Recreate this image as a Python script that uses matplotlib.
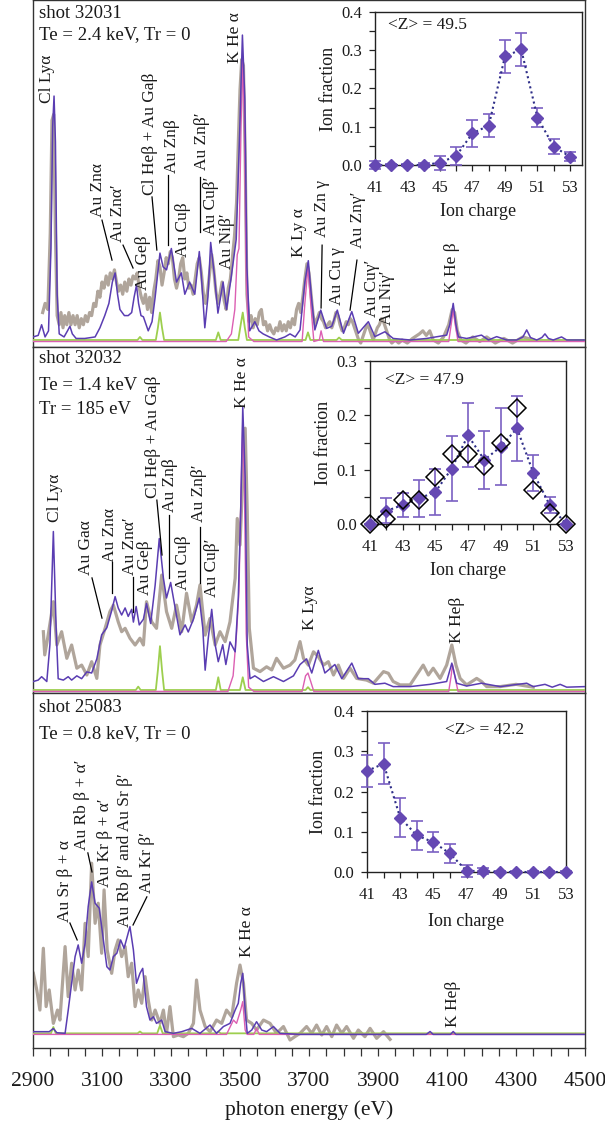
import matplotlib
matplotlib.use("Agg")
import matplotlib.pyplot as plt
from matplotlib.ticker import MultipleLocator, FormatStrFormatter

plt.rcParams['font.family'] = ['Liberation Serif', 'DejaVu Serif']

W, H = 605, 1130

# ------------------------------------------------------------------ data
# spectra: (photon energy eV, relative intensity) vertices
p1_gray = [(2928,0.09),(2935,0.12),(2943,0.10),(2950,0.35),(2955,0.72),(2960,0.74),(2965,0.35),(2970,0.08),
    (2976,0.05),(2981,0.09),(2987,0.04),(2992,0.08),(2998,0.05),(3004,0.09),(3010,0.05),(3016,0.08),(3022,0.05),
    (3028,0.08),(3034,0.04),(3040,0.07),(3046,0.05),(3052,0.08),(3058,0.06),(3064,0.09),(3070,0.08),(3076,0.12),
    (3082,0.11),(3088,0.16),(3094,0.14),(3100,0.19),(3106,0.17),(3112,0.21),(3118,0.18),(3124,0.22),(3130,0.20),
    (3136,0.23),(3142,0.19),(3148,0.16),(3154,0.18),(3160,0.15),(3166,0.19),(3172,0.16),(3178,0.20),(3184,0.18),
    (3190,0.21),(3196,0.20),(3202,0.22),(3208,0.17),(3214,0.14),(3220,0.12),(3226,0.15),(3232,0.10),(3238,0.14),
    (3244,0.09),(3250,0.16),(3256,0.20),(3262,0.26),(3268,0.24),(3274,0.18),(3280,0.22),(3286,0.27),(3292,0.25),
    (3298,0.29),(3304,0.27),(3310,0.20),(3316,0.17),(3322,0.20),(3328,0.25),(3334,0.27),(3340,0.20),(3346,0.22),
    (3352,0.17),(3358,0.18),(3364,0.15),(3370,0.20),(3376,0.25),(3382,0.27),(3388,0.22),(3394,0.15),(3400,0.12),
    (3406,0.16),(3412,0.22),(3418,0.28),(3424,0.23),(3430,0.16),(3436,0.12),(3442,0.15),(3448,0.19),(3454,0.13),
    (3460,0.10),(3466,0.17),(3472,0.20),(3478,0.27),(3484,0.34),(3490,0.45),(3496,0.68),(3500,0.82),(3505,0.92),
    (3510,0.90),(3515,0.60),(3520,0.15),(3526,0.06),(3532,0.08),(3538,0.04),(3544,0.07),(3550,0.05),(3556,0.09),
    (3562,0.10),(3568,0.05),(3574,0.06),(3580,0.03),(3586,0.05),(3592,0.03),(3598,0.02),(3604,0.04),(3610,0.03),
    (3616,0.06),(3622,0.03),(3628,0.05),(3634,0.03),(3640,0.06),(3646,0.04),(3652,0.07),(3658,0.05),(3664,0.10),
    (3670,0.12),(3676,0.09),(3682,0.14),(3688,0.20),(3694,0.25),(3700,0.22),(3706,0.15),(3712,0.08),(3718,0.05),
    (3724,0.07),(3730,0.09),(3736,0.07),(3742,0.06),(3748,0.04),(3754,0.05),(3760,0.06),(3766,0.04),(3772,0.06),
    (3778,0.09),(3784,0.08),(3790,0.05),(3796,0.03),(3802,0.04),(3808,0.06),(3814,0.05),(3820,0.07),(3826,0.06),
    (3832,0.04),(3838,0.02),(3844,0.00),(3850,-0.01),(3856,0.01),(3862,0.03),(3868,0.05),(3874,0.04),(3880,0.02),
    (3886,0.00),(3892,0.02),(3898,0.04),(3904,0.05),(3910,0.07),(3916,0.06),(3922,0.04),(3928,0.02),(3934,0.00),
    (3940,-0.01),(3950,0.00),(3960,-0.01),(3970,0.00),(3985,-0.01),(4000,0.005),(4020,0.02),(4030,0.03),(4040,0.015),
    (4050,0.03),(4060,0.00),(4075,-0.01),(4090,0.01),(4105,0.05),(4115,0.10),(4122,0.09),(4130,0.03),(4140,0.00),
    (4155,-0.01),(4175,0.01),(4195,-0.005),(4215,0.01),(4240,-0.01),(4265,0.005),(4290,-0.01),(4320,0.01),(4350,0.00)]
p1_model = [(2900,0.01),(2915,0.015),(2925,0.05),(2935,0.01),(2945,0.03),(2952,0.30),(2957,0.70),(2961,0.80),
    (2965,0.65),(2970,0.15),(2976,0.02),(2990,0.01),(3000,0.03),(3007,0.045),(3014,0.02),(3025,0.005),(3050,0.005),
    (3080,0.01),(3094,0.04),(3108,0.08),(3120,0.12),(3130,0.19),(3138,0.22),(3145,0.15),(3152,0.10),(3165,0.08),
    (3176,0.08),(3186,0.09),(3193,0.14),(3200,0.18),(3206,0.12),(3213,0.08),(3220,0.076),(3234,0.03),(3245,0.06),
    (3254,0.14),(3268,0.285),(3277,0.24),(3287,0.23),(3301,0.30),(3316,0.19),(3330,0.22),(3340,0.15),(3354,0.19),
    (3369,0.15),(3382,0.29),(3388,0.21),(3398,0.04),(3407,0.14),(3415,0.32),(3426,0.21),(3436,0.088),(3451,0.19),
    (3461,0.10),(3475,0.21),(3489,0.33),(3499,0.68),(3507,1.00),(3514,0.79),(3520,0.24),(3528,0.03),(3543,0.06),
    (3555,0.03),(3567,0.02),(3585,0.01),(3606,0.00),(3630,0.01),(3645,0.02),(3660,0.01),(3674,0.033),(3688,0.19),
    (3698,0.26),(3708,0.13),(3717,0.033),(3734,0.098),(3751,0.038),(3766,0.045),(3782,0.098),(3800,0.022),
    (3824,0.093),(3843,0.022),(3872,0.06),(3891,0.011),(3920,0.027),(3944,0.005),(3993,0.00),(4041,0.005),
    (4099,0.016),(4108,0.05),(4118,0.12),(4126,0.05),(4133,0.01),(4157,0.005),(4200,0.016),(4220,0.00),(4244,0.011),
    (4273,0.00),(4302,0.00),(4320,0.01),(4331,0.033),(4342,0.008),(4360,0.00),(4375,0.008),(4384,0.02),(4394,0.005),
    (4408,0.00),(4432,0.01),(4447,0.00),(4500,0.00)]
p1_pink = [(2900,-0.005),(3460,-0.005),(3475,0.02),(3485,0.10),(3492,0.28),(3497,0.30),(3503,0.70),(3508,0.92),
    (3513,0.70),(3518,0.20),(3525,0.01),(3540,-0.005),(3680,-0.005),(3688,0.12),(3697,0.24),(3705,0.12),(3714,-0.005),
    (3730,0.00),(3735,0.03),(3742,-0.005),(4105,-0.005),(4112,0.05),(4118,0.10),(4124,0.05),(4132,-0.005),(4500,-0.005)]
p1_green = [(2900,0),(3203,0),(3210,0.01),(3217,0),(3256,0),(3262,0.04),(3268,0.09),(3274,0.04),(3280,0),(3430,0),
    (3437,0.025),(3444,0),(3495,0),(3502,0.05),(3508,0.09),(3514,0.04),(3520,0),(3690,0),(3697,0.025),(3704,0),
    (3780,0),(3787,0.008),(3795,0),(4500,0)]

p2_gray = [(2930,0.206),(2934,0.124),(2944,0.194),(2959,0.312),(2969,0.159),(2983,0.206),(2998,0.112),(3012,0.159),
    (3027,0.077),(3041,0.088),(3056,0.053),(3070,0.100),(3085,0.041),(3094,0.159),(3109,0.218),(3123,0.277),
    (3133,0.300),(3147,0.241),(3157,0.206),(3167,0.218),(3181,0.183),(3196,0.159),(3210,0.183),(3220,0.159),
    (3229,0.312),(3244,0.241),(3258,0.218),(3273,0.406),(3287,0.277),(3302,0.218),(3316,0.300),(3331,0.206),
    (3345,0.342),(3360,0.241),(3374,0.300),(3384,0.371),(3399,0.194),(3413,0.253),(3428,0.159),(3442,0.206),
    (3457,0.171),(3471,0.241),(3486,0.395),(3492,0.606),(3500,0.512),(3508,0.748),(3515,0.925),(3521,0.630),
    (3527,0.218),(3539,0.077),(3558,0.065),(3577,0.082),(3592,0.071),(3606,0.112),(3626,0.077),(3645,0.088),
    (3659,0.106),(3674,0.171),(3684,0.112),(3698,0.088),(3713,0.135),(3727,0.118),(3742,0.088),(3756,0.100),
    (3771,0.053),(3785,0.088),(3800,0.041),(3819,0.077),(3838,0.041),(3867,0.035),(3887,0.024),(3916,0.065),
    (3930,0.059),(3944,0.030),(3964,0.018),(3993,0.018),(4012,0.053),(4031,0.088),(4046,0.053),(4060,0.077),
    (4080,0.041),(4099,0.088),(4114,0.159),(4126,0.088),(4138,0.041),(4157,0.018),(4186,0.041),(4200,0.030),
    (4215,0.012),(4254,0.012),(4300,0.020),(4350,0.010)]
p2_model = [(2901,0.03),(2915,0.035),(2925,0.047),(2940,0.03),(2949,0.16),(2959,0.56),(2967,0.22),(2973,0.04),
    (2988,0.035),(3002,0.047),(3012,0.035),(3027,0.05),(3041,0.04),(3056,0.064),(3070,0.06),(3085,0.11),(3099,0.195),
    (3114,0.22),(3128,0.28),(3138,0.33),(3147,0.29),(3157,0.265),(3167,0.29),(3176,0.26),(3186,0.285),(3191,0.24),
    (3199,0.295),(3208,0.23),(3220,0.25),(3229,0.306),(3241,0.235),(3254,0.37),(3266,0.535),(3278,0.395),
    (3287,0.325),(3299,0.38),(3312,0.29),(3326,0.195),(3341,0.23),(3350,0.205),(3365,0.25),(3382,0.325),
    (3392,0.22),(3399,0.07),(3408,0.183),(3418,0.285),(3428,0.16),(3437,0.10),(3450,0.16),(3459,0.09),(3471,0.17),
    (3486,0.135),(3495,0.325),(3502,0.63),(3508,1.00),(3515,0.75),(3521,0.16),(3529,0.04),(3543,0.05),(3568,0.03),
    (3597,0.047),(3626,0.03),(3655,0.05),(3674,0.09),(3693,0.11),(3708,0.06),(3727,0.14),(3746,0.06),(3775,0.09),
    (3795,0.04),(3824,0.095),(3843,0.04),(3872,0.04),(3891,0.02),(3920,0.024),(3944,0.012),(3993,0.012),
    (4051,0.02),(4099,0.03),(4114,0.095),(4128,0.024),(4157,0.014),(4200,0.024),(4254,0.012),(4331,0.024),
    (4350,0.012),(4384,0.02),(4405,0.01),(4428,0.02),(4447,0.01),(4500,0.012)]
p2_pink = [(2900,-0.005),(3465,-0.005),(3480,0.05),(3490,0.20),(3497,0.35),(3503,0.70),(3508,0.95),(3513,0.70),
    (3518,0.20),(3525,0.01),(3540,-0.005),(3680,-0.005),(3690,0.05),(3697,0.06),(3705,0.03),(3714,-0.005),
    (4105,-0.005),(4112,0.05),(4116,0.09),(4124,0.04),(4132,-0.005),(4500,-0.005)]
p2_green = [(2900,0),(3198,0),(3205,0.012),(3212,0),(3256,0),(3262,0.07),(3268,0.155),(3274,0.07),(3280,0),
    (3430,0),(3437,0.045),(3444,0),(3500,0),(3508,0.045),(3516,0),(3690,0),(3697,0.01),(3704,0),(4500,0)]

p3_gray = [(2901,0.395),(2911,0.285),(2920,0.152),(2930,0.561),(2938,0.175),(2947,0.285),(2959,0.064),
    (2971,0.152),(2978,0.086),(2993,0.572),(3002,0.241),(3012,0.462),(3022,0.285),(3031,0.417),(3041,0.285),
    (3051,0.726),(3060,0.506),(3070,1.124),(3080,0.726),(3089,0.859),(3099,0.528),(3106,0.947),(3115,0.550),
    (3128,0.395),(3138,0.550),(3147,0.616),(3157,0.506),(3167,0.572),(3176,0.373),(3186,0.462),(3196,0.175),
    (3205,0.285),(3215,0.197),(3225,0.373),(3234,0.219),(3244,0.086),(3254,0.152),(3268,0.064),(3278,0.152),
    (3287,-0.002),(3297,0.175),(3307,-0.024),(3321,-0.013),(3336,-0.024),(3350,-0.002),(3365,0.064),(3374,0.351),
    (3384,0.152),(3399,0.043),(3413,0.009),(3432,0.086),(3447,0.064),(3461,0.152),(3476,0.108),(3490,0.329),
    (3500,0.450),(3510,0.329),(3519,0.086),(3534,0.064),(3548,0.020),(3568,0.086),(3587,0.064),(3606,-0.002),
    (3626,0.043),(3645,-0.046),(3659,-0.024),(3674,-0.002),(3693,0.043),(3708,-0.002),(3722,0.053),(3737,-0.013),
    (3751,0.043),(3766,-0.024),(3780,0.053),(3795,-0.002),(3809,0.043),(3829,-0.035),(3843,0.020),(3862,-0.024),
    (3877,0.031),(3896,-0.035),(3916,0.009),(3935,-0.042)]
p3_model = [(2901,0.009),(2947,0.009),(2959,0.03),(2969,0.002),(2993,-0.002),(3002,0.15),(3012,0.33),(3022,0.506),
    (3031,0.583),(3041,0.462),(3051,0.594),(3060,0.837),(3070,1.00),(3080,0.859),(3092,0.826),(3104,0.616),
    (3114,0.439),(3123,0.417),(3133,0.506),(3143,0.528),(3154,0.616),(3164,0.561),(3181,0.704),(3191,0.550),
    (3200,0.329),(3210,0.395),(3218,0.428),(3229,0.175),(3239,0.086),(3249,0.108),(3258,0.064),(3273,0.086),
    (3283,0.009),(3307,-0.002),(3331,0.009),(3360,0.031),(3384,-0.002),(3413,0.053),(3432,-0.002),(3452,0.043),
    (3471,0.064),(3486,0.152),(3495,0.197),(3502,0.329),(3508,0.395),(3515,0.152),(3521,-0.002),(3534,0.02),
    (3548,0.075),(3563,0.02),(3577,0.009),(3597,0.043),(3616,-0.002),(3674,-0.009),(4040,-0.009),(4051,0.01),
    (4060,-0.009),(4110,-0.009),(4118,0.01),(4126,-0.009),(4500,-0.009)]
p3_pink = [(2900,-0.009),(3461,-0.009),(3481,0.086),(3490,0.064),(3502,0.152),(3508,0.208),(3515,0.02),
    (3521,-0.009),(3540,-0.009),(3548,0.03),(3556,-0.009),(4500,-0.009)]
p3_green = [(2900,-0.002),(2952,-0.002),(2959,0.04),(2966,-0.002),(3203,-0.002),(3210,0.01),(3217,-0.002),
    (3260,-0.002),(3268,0.05),(3276,-0.002),(3430,-0.002),(3437,0.01),(3444,-0.002),(4500,-0.002)]

# line identifications: (text, energy, intensity at text start, leader line or None)
p1_labels = [("Cl Lyα", 2941, 0.777, None),
    ("Au Znα", 3088, 0.403, ((3100, 0.393), (3129, 0.262))),
    ("Au Znα′", 3146, 0.321, ((3161, 0.311), (3190, 0.236))),
    ("Au Geβ", 3219, 0.164, None),
    ("Cl Heβ + Au Gaβ", 3239, 0.475, ((3245, 0.469), (3259, 0.295))),
    ("Au Znβ", 3303, 0.548, ((3291, 0.541), (3291, 0.311))),
    ("Au Cuβ", 3335, 0.272, None),
    ("Au Znβ′", 3390, 0.557, ((3384, 0.534), (3384, 0.354))),
    ("Au Cuβ′", 3415, 0.345, None),
    ("Au Niβ′", 3461, 0.232, None),
    ("K He α", 3485, 0.908, None),
    ("K Ly α", 3671, 0.272, None),
    ("Au Zn γ", 3738, 0.338, ((3738, 0.311), (3735, 0.105))),
    ("Au Cu γ", 3781, 0.115, None),
    ("Au Znγ′", 3842, 0.302, ((3839, 0.262), (3819, 0.098))),
    ("Au Cuγ′", 3883, 0.075, None),
    ("Au Niγ′", 3926, 0.049, None),
    ("K He β", 4114, 0.154, None)]
p2_labels = [("Cl Lyα", 2964, 0.594, None),
    ("Au Gaα", 3054, 0.406, ((3071, 0.396), (3100, 0.254))),
    ("Au Znα", 3123, 0.452, ((3129, 0.452), (3129, 0.343))),
    ("Au Znα′", 3181, 0.406, ((3190, 0.399), (3190, 0.276))),
    ("Au Geβ", 3225, 0.336, None),
    ("Cl Heβ + Au Gaβ", 3248, 0.678, ((3259, 0.671), (3274, 0.477))),
    ("Au Znβ", 3297, 0.629, ((3294, 0.618), (3294, 0.396))),
    ("Au Cuβ", 3335, 0.353, None),
    ("Au Znβ′", 3381, 0.594, ((3384, 0.576), (3384, 0.378))),
    ("Au Cuβ′", 3419, 0.329, None),
    ("K He α", 3506, 0.996, None),
    ("K Lyα", 3703, 0.212, None),
    ("K Heβ", 4129, 0.166, None)]
p3_labels = [("Au Sr β + α", 2993, 0.735, ((3007, 0.728), (3028, 0.616))),
    ("Au Rb β + α′", 3042, 1.212, ((3059, 1.192), (3071, 1.066))),
    ("Au Kr β + α′", 3109, 0.967, None),
    ("Au Rb β′ and Au Sr β′", 3167, 0.702, None),
    ("Au Kr β′", 3230, 0.927, ((3230, 0.901), (3190, 0.715))),
    ("K He α", 3520, 0.503, None),
    ("K Heβ", 4117, 0.040, None)]

p1_header = ["shot 32031", "Te = 2.4 keV, Tr = 0"]
p2_header = ["shot 32032", "Te = 1.4 keV", "Tr = 185 eV"]
p3_header = ["shot 25083", "Te = 0.8 keV, Tr = 0"]

# charge state distributions (insets)
ion_charge = [41, 42, 43, 44, 45, 46, 47, 48, 49, 50, 51, 52, 53]
csd1 = [0.0, 0.0, 0.0, 0.0, 0.006, 0.024, 0.083, 0.103, 0.284, 0.302, 0.124, 0.048, 0.022]
csd1_err = [0.010, 0.002, 0.002, 0.004, 0.018, 0.024, 0.035, 0.030, 0.043, 0.044, 0.025, 0.020, 0.011]
csd2 = [0.0, 0.024, 0.035, 0.047, 0.059, 0.102, 0.163, 0.118, 0.142, 0.176, 0.094, 0.035, 0.0]
csd2_err = [0.0, 0.023, 0.022, 0.034, 0.042, 0.060, 0.059, 0.054, 0.071, 0.060, 0.033, 0.014, 0.0]
csd2_alt = [0.0, 0.010, 0.044, 0.044, 0.086, 0.129, 0.129, 0.107, 0.150, 0.214, 0.062, 0.021, 0.0]
csd3 = [0.251, 0.269, 0.135, 0.091, 0.074, 0.046, 0.003, 0.002, 0.0, 0.0, 0.0, 0.0, 0.0]
csd3_err = [0.039, 0.051, 0.049, 0.036, 0.025, 0.024, 0.015, 0.007, 0.003, 0.003, 0.003, 0.003, 0.003]
mean_z = ["<Z> = 49.5", "<Z> = 47.9", "<Z> = 42.2"]

# ------------------------------------------------------------------ style
GRAY = '#B0A59B'
PURPLE = '#5A3DB2'
PINK = '#DC5FB2'
GREEN = '#9DCF4E'
MARK = '#6548B3'
ERRC = '#7A60C2'
DOTC = '#2E2E88'
TXT = '#1a1a1a'

fig = plt.figure(figsize=(W / 100, H / 100), dpi=100)


def px_axes(left, right, top, bottom):
    return fig.add_axes([left / W, 1 - bottom / H, (right - left) / W, (bottom - top) / H])


def xy(pts):
    return [p[0] for p in pts], [p[1] for p in pts]


panels = [
    dict(box=(33, 585, 0, 347), ylim=(-0.023, 1.115), gray=p1_gray, model=p1_model, pink=p1_pink,
         green=p1_green, labels=p1_labels, header=p1_header, hy=[0.9625, 0.899]),
    dict(box=(33, 585, 347, 693), ylim=(-0.0106, 1.212), gray=p2_gray, model=p2_model, pink=p2_pink,
         green=p2_green, labels=p2_labels, header=p2_header, hy=[0.968, 0.890, 0.818]),
    dict(box=(33, 585, 693, 1048), ylim=(-0.099, 2.25), gray=p3_gray, model=p3_model, pink=p3_pink,
         green=p3_green, labels=p3_labels, header=p3_header, hy=[0.958, 0.887]),
]

main_axes = []
for i, p in enumerate(panels):
    ax = px_axes(*p['box'])
    ax.set_xlim(2900, 4500)
    ax.set_ylim(*p['ylim'])
    ax.plot(*xy(p['gray']), color=GRAY, lw=2.3, solid_joinstyle='round', zorder=2)
    ax.plot(*xy(p['green']), color=GREEN, lw=1.3, zorder=3)
    ax.plot(*xy(p['pink']), color=PINK, lw=1.0, zorder=4)
    ax.plot(*xy(p['model']), color=PURPLE, lw=1.1, zorder=5)
    for txt, e, yv, lead in p['labels']:
        ax.text(e, yv, txt, rotation=90, ha='center', va='bottom', fontsize=12.5, color=TXT, zorder=6)
        if lead is not None:
            ax.plot([lead[0][0], lead[1][0]], [lead[0][1], lead[1][1]], color='black', lw=0.9, zorder=6)
    for txt, yf in zip(p['header'], p['hy']):
        ax.text(0.011, yf, txt, transform=ax.transAxes, ha='left', va='center', fontsize=13.5, color=TXT)
    ax.set_yticks([])
    for s in ax.spines.values():
        s.set_color('#333333')
        s.set_linewidth(1.0)
    if i < 2:
        ax.tick_params(axis='x', which='both', bottom=False, labelbottom=False)
    main_axes.append(ax)

ax3 = main_axes[2]
ax3.set_xticks(range(2900, 4501, 200))
ax3.xaxis.set_minor_locator(MultipleLocator(50))
ax3.tick_params(axis='x', which='both', direction='out', length=6, width=0.9, color='#333333',
                labelsize=15.5, pad=11, labelcolor=TXT)
ax3.set_xlabel('photon energy (eV)', fontsize=15.5, color=TXT, labelpad=7)

insets = [
    dict(box=(375, 582, 12, 165), xmax=53.74, ymax=0.4, y=csd1, err=csd1_err, alt=None, zt=mean_z[0],
         zpos=(0.063, 0.915), ylab=-0.184, xlab=-0.248),
    dict(box=(370, 566, 361, 524), xmax=53.0, ymax=0.3, y=csd2, err=csd2_err, alt=csd2_alt, zt=mean_z[1],
         zpos=(0.077, 0.883), ylab=-0.194, xlab=-0.233),
    dict(box=(367, 566, 711, 872), xmax=53.0, ymax=0.4, y=csd3, err=csd3_err, alt=None, zt=mean_z[2],
         zpos=(0.392, 0.882), ylab=-0.201, xlab=-0.255),
]

for d in insets:
    ia = px_axes(*d['box'])
    ia.set_zorder(10)
    ia.set_facecolor('white')
    ia.set_xlim(41, d['xmax'])
    ia.set_ylim(0, d['ymax'])
    ia.errorbar(ion_charge, d['y'], yerr=d['err'], fmt='none', ecolor=ERRC, elinewidth=1.2,
                capsize=4, capthick=1.2, zorder=3, clip_on=False)
    ia.plot(ion_charge, d['y'], linestyle=(0, (1, 1.5)), color=DOTC, lw=1.5, zorder=4, clip_on=False)
    if d['alt'] is not None:
        ia.plot(ion_charge, d['alt'], linestyle='none', marker='D', ms=9, mfc='none', mec='black',
                mew=1.1, zorder=6, clip_on=False)
    ia.plot(ion_charge, d['y'], linestyle='none', marker='D', ms=6, color=MARK, zorder=5, clip_on=False)
    ia.set_xticks([41, 43, 45, 47, 49, 51, 53])
    ia.xaxis.set_minor_locator(MultipleLocator(1))
    ia.yaxis.set_major_locator(MultipleLocator(0.1))
    ia.yaxis.set_minor_locator(MultipleLocator(0.05))
    ia.yaxis.set_major_formatter(FormatStrFormatter('%.1f'))
    ia.tick_params(axis='both', which='both', direction='out', length=4, width=0.9, color='#222222',
                   labelsize=12, labelcolor=TXT)
    ia.tick_params(axis='x', which='both', pad=7)
    ia.tick_params(axis='y', which='both', pad=5)
    ia.set_xlabel('Ion charge', fontsize=13, color=TXT)
    ia.set_ylabel('Ion fraction', fontsize=13, color=TXT)
    ia.xaxis.set_label_coords(0.5, d['xlab'])
    ia.yaxis.set_label_coords(d['ylab'], 0.5)
    ia.text(d['zpos'][0], d['zpos'][1], d['zt'], transform=ia.transAxes, ha='left', va='center',
            fontsize=12.5, color=TXT)
    for s in ia.spines.values():
        s.set_color('#222222')
        s.set_linewidth(1.0)

fig.savefig('out.png', dpi=100)
